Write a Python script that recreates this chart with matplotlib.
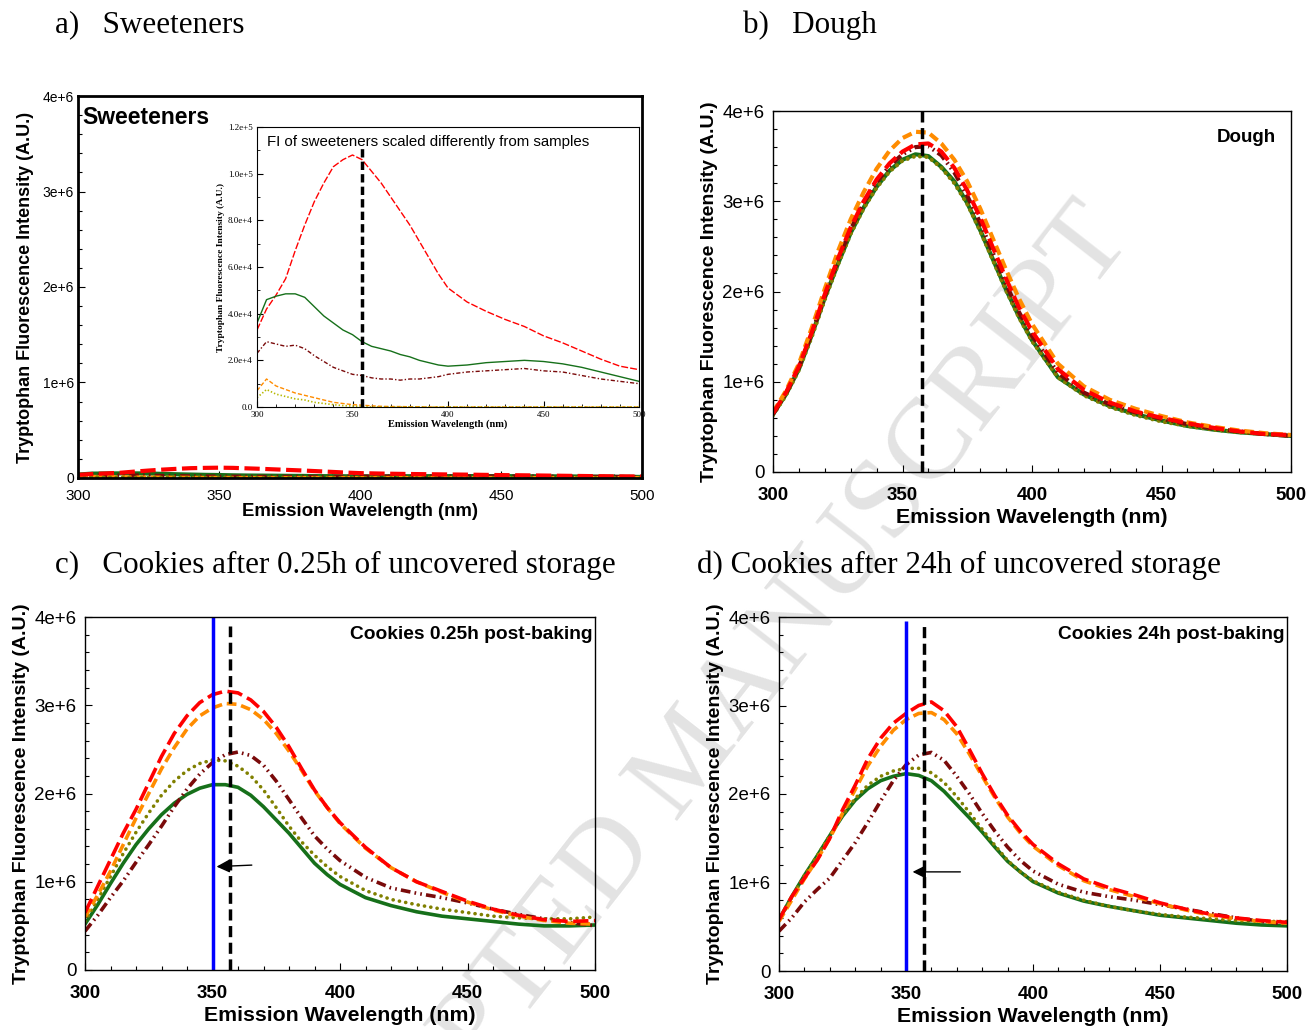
import numpy as np
import matplotlib
matplotlib.use("Agg")
import matplotlib.pyplot as plt
from matplotlib.ticker import MultipleLocator, FuncFormatter

plt.rcParams['font.family'] = ['Liberation Sans', 'DejaVu Sans']
plt.rcParams['lines.scale_dashes'] = False

W, H = 1310, 1030

# wavelength grid (nm)
wl = [300, 305, 310, 315, 320, 325, 330, 335, 340, 345, 350, 355, 360, 365, 370,
      375, 380, 385, 390, 395, 400, 410, 420, 430, 440, 450, 460, 470, 480, 490, 500]

# a) sweeteners, units of 1e4
sw_red = [3.3, 4.2, 4.8, 5.5, 6.7, 7.8, 8.8, 9.6, 10.3, 10.6, 10.8, 10.6, 10.1, 9.6, 9.0,
          8.4, 7.8, 7.1, 6.4, 5.7, 5.1, 4.5, 4.1, 3.75, 3.45, 3.05, 2.75, 2.4, 2.05, 1.75, 1.6]
sw_green = [3.6, 4.6, 4.75, 4.85, 4.85, 4.7, 4.3, 3.9, 3.6, 3.3, 3.1, 2.8, 2.6, 2.5, 2.4,
            2.25, 2.15, 2.0, 1.9, 1.8, 1.75, 1.8, 1.9, 1.95, 2.0, 1.95, 1.85, 1.7, 1.5, 1.3, 1.1]
sw_maroon = [2.3, 2.8, 2.7, 2.6, 2.65, 2.5, 2.2, 1.95, 1.7, 1.55, 1.4, 1.35, 1.25, 1.2, 1.2,
             1.15, 1.2, 1.2, 1.25, 1.3, 1.4, 1.5, 1.55, 1.6, 1.65, 1.55, 1.5, 1.35, 1.2, 1.1, 1.0]
sw_orange = [0.7, 1.2, 0.9, 0.75, 0.6, 0.5, 0.4, 0.3, 0.2, 0.15, 0.1, 0.08, 0.05, 0.03, 0.02,
             0.02, 0.01, 0.01, 0.0, 0.0, 0.0, 0.0, 0.0, 0.0, 0.0, 0.0, 0.0, 0.0, 0.0, 0.0, 0.0]
sw_olive = [0.4, 0.75, 0.55, 0.45, 0.35, 0.3, 0.2, 0.15, 0.1, 0.06, 0.04, 0.02, 0.0, 0.0, 0.0,
            0.0, 0.0, 0.0, 0.0, 0.0, 0.0, 0.0, 0.0, 0.0, 0.0, 0.0, 0.0, 0.0, 0.0, 0.0, 0.0]

# b) dough, units of 1e6
dough_orange = [0.66, 0.90, 1.20, 1.60, 2.03, 2.44, 2.80, 3.10, 3.36, 3.56, 3.70, 3.77, 3.76, 3.64, 3.46,
                3.22, 2.92, 2.58, 2.24, 1.92, 1.64, 1.20, 0.95, 0.80, 0.70, 0.62, 0.55, 0.50, 0.46, 0.43, 0.41]
dough_red = [0.65, 0.88, 1.17, 1.55, 1.97, 2.36, 2.71, 3.00, 3.24, 3.42, 3.55, 3.63, 3.64, 3.55, 3.37,
             3.12, 2.82, 2.48, 2.14, 1.82, 1.56, 1.14, 0.91, 0.77, 0.67, 0.60, 0.54, 0.49, 0.45, 0.42, 0.41]
dough_maroon = [0.64, 0.87, 1.16, 1.54, 1.95, 2.34, 2.69, 2.98, 3.21, 3.39, 3.52, 3.60, 3.61, 3.51, 3.32,
                3.06, 2.76, 2.42, 2.08, 1.77, 1.51, 1.10, 0.88, 0.75, 0.66, 0.59, 0.53, 0.48, 0.45, 0.42, 0.40]
dough_olive = [0.63, 0.85, 1.13, 1.50, 1.91, 2.29, 2.64, 2.92, 3.15, 3.33, 3.45, 3.50, 3.49, 3.37, 3.20,
               2.97, 2.67, 2.34, 2.01, 1.71, 1.45, 1.05, 0.85, 0.72, 0.63, 0.56, 0.51, 0.47, 0.44, 0.42, 0.40]
dough_green = [0.64, 0.86, 1.14, 1.52, 1.93, 2.30, 2.65, 2.93, 3.16, 3.34, 3.46, 3.52, 3.50, 3.38, 3.22,
               2.98, 2.68, 2.35, 2.02, 1.72, 1.46, 1.05, 0.86, 0.73, 0.64, 0.57, 0.51, 0.47, 0.44, 0.42, 0.40]

# c) cookies 0.25h post-baking, units of 1e6
c1_red = [0.65, 0.95, 1.25, 1.55, 1.82, 2.12, 2.42, 2.68, 2.88, 3.03, 3.12, 3.16, 3.14, 3.06, 2.93,
          2.75, 2.53, 2.28, 2.04, 1.84, 1.67, 1.39, 1.16, 1.00, 0.89, 0.78, 0.69, 0.62, 0.57, 0.55, 0.56]
c1_orange = [0.60, 0.85, 1.12, 1.42, 1.72, 2.00, 2.28, 2.52, 2.73, 2.88, 2.97, 3.02, 3.01, 2.95, 2.84,
             2.68, 2.48, 2.26, 2.03, 1.84, 1.66, 1.38, 1.16, 1.00, 0.88, 0.77, 0.68, 0.61, 0.56, 0.53, 0.52]
c1_maroon = [0.44, 0.62, 0.82, 1.01, 1.22, 1.42, 1.63, 1.85, 2.05, 2.22, 2.35, 2.44, 2.47, 2.43, 2.32,
             2.14, 1.93, 1.72, 1.52, 1.37, 1.24, 1.05, 0.93, 0.87, 0.82, 0.76, 0.69, 0.63, 0.58, 0.54, 0.50]
c1_olive = [0.55, 0.80, 1.06, 1.32, 1.56, 1.78, 1.98, 2.14, 2.26, 2.34, 2.38, 2.37, 2.31, 2.20, 2.04,
            1.84, 1.63, 1.45, 1.30, 1.17, 1.06, 0.90, 0.80, 0.74, 0.69, 0.65, 0.61, 0.59, 0.58, 0.58, 0.60]
c1_green = [0.52, 0.74, 0.98, 1.21, 1.42, 1.60, 1.76, 1.89, 1.99, 2.06, 2.10, 2.10, 2.07, 1.98, 1.85,
            1.70, 1.55, 1.38, 1.21, 1.08, 0.97, 0.82, 0.73, 0.66, 0.61, 0.58, 0.55, 0.52, 0.50, 0.50, 0.51]

# d) cookies 24h post-baking, units of 1e6
c24_red = [0.58, 0.84, 1.05, 1.25, 1.50, 1.82, 2.10, 2.40, 2.63, 2.80, 2.91, 3.00, 3.04, 2.94, 2.76,
           2.50, 2.23, 1.98, 1.76, 1.58, 1.43, 1.21, 1.04, 0.94, 0.86, 0.77, 0.70, 0.64, 0.60, 0.57, 0.55]
c24_orange = [0.56, 0.80, 1.04, 1.26, 1.50, 1.78, 2.05, 2.32, 2.54, 2.72, 2.84, 2.91, 2.92, 2.84, 2.68,
              2.45, 2.20, 1.96, 1.74, 1.56, 1.41, 1.19, 1.02, 0.92, 0.84, 0.76, 0.69, 0.63, 0.59, 0.56, 0.54]
c24_maroon = [0.45, 0.60, 0.78, 0.92, 1.05, 1.25, 1.45, 1.68, 1.92, 2.15, 2.33, 2.44, 2.47, 2.38, 2.20,
              2.00, 1.78, 1.58, 1.40, 1.25, 1.13, 0.98, 0.89, 0.84, 0.80, 0.75, 0.70, 0.65, 0.60, 0.56, 0.53]
c24_olive = [0.57, 0.83, 1.08, 1.30, 1.53, 1.76, 1.95, 2.10, 2.20, 2.26, 2.29, 2.29, 2.24, 2.13, 1.97,
             1.79, 1.60, 1.42, 1.25, 1.12, 1.02, 0.89, 0.80, 0.73, 0.68, 0.64, 0.61, 0.59, 0.57, 0.56, 0.56]
c24_green = [0.58, 0.84, 1.08, 1.30, 1.53, 1.75, 1.93, 2.06, 2.15, 2.20, 2.23, 2.21, 2.15, 2.03, 1.88,
             1.73, 1.57, 1.40, 1.24, 1.12, 1.01, 0.88, 0.79, 0.73, 0.68, 0.63, 0.60, 0.57, 0.54, 0.52, 0.51]

RED, ORANGE, MAROON, OLIVE, GREEN = '#ff0000', '#ff8c00', '#7a0a0a', '#808000', '#16701a'
styles = {
    'red': dict(color=RED, dashes=(11, 4)),
    'orange': dict(color=ORANGE, dashes=(7, 3.5)),
    'maroon': dict(color=MAROON, dashes=(7, 3, 1.2, 3, 1.2, 3)),
    'olive': dict(color=OLIVE, dashes=(0.1, 4.5), dash_capstyle='round'),
    'green': dict(color=GREEN),
}
SERIF = ['Liberation Serif', 'DejaVu Serif']

fig = plt.figure(figsize=(W / 100, H / 100), dpi=100)

def px_axes(l, t, r, b):
    return fig.add_axes([l / W, 1 - b / H, (r - l) / W, (b - t) / H])

def fmt_e6(v, pos):
    return '0' if abs(v) < 1 else f'{int(round(v / 1e6))}e+6'

def style_panel(ax, bold_x=True, frame_lw=1.0, tick_fs=13.5, xtick_fs=13.5, xpad=11):
    ax.set_xlim(300, 500)
    ax.set_ylim(0, 4e6)
    ax.patch.set_alpha(0)
    ax.xaxis.set_major_locator(MultipleLocator(50))
    ax.xaxis.set_minor_locator(MultipleLocator(10))
    ax.yaxis.set_major_locator(MultipleLocator(1e6))
    ax.yaxis.set_minor_locator(MultipleLocator(2e5))
    ax.yaxis.set_major_formatter(FuncFormatter(fmt_e6))
    ax.tick_params(which='both', direction='in', top=False, right=False, width=0.8)
    ax.tick_params(which='major', length=5)
    ax.tick_params(which='minor', length=3)
    ax.tick_params(axis='y', labelsize=tick_fs, pad=6)
    ax.tick_params(axis='x', labelsize=xtick_fs, pad=xpad)
    for lab in ax.get_xticklabels():
        lab.set_fontweight('bold' if bold_x else 'normal')
    for s in ax.spines.values():
        s.set_linewidth(frame_lw)
    ax.set_xlabel('Emission Wavelength (nm)', fontsize=15.3, fontweight='bold', labelpad=3)
    ax.set_ylabel('Tryptophan Fluorescence Intensity (A.U.)', fontsize=14,
                  fontweight='bold', labelpad=3)

def plot_set(ax, x, curves, scale, lw):
    for key, vals in curves:
        ax.plot(x, np.array(vals) * scale, lw=lw, **styles[key])

# titles
title_kw = dict(fontsize=22.4, family=SERIF, va='center')
fig.text(55 / W, 1 - 25 / H, 'a)   Sweeteners', **title_kw)
fig.text(743 / W, 1 - 25 / H, 'b)   Dough', **title_kw)
fig.text(55 / W, 1 - 565 / H, 'c)   Cookies after 0.25h of uncovered storage', **title_kw)
fig.text(697 / W, 1 - 565 / H, 'd) Cookies after 24h of uncovered storage', **title_kw)

# watermark
fig.text(690 / W, 1 - 760 / H, 'ACCEPTED MANUSCRIPT', fontsize=83, color='#e3e3e3', rotation=52,
         family=SERIF, ha='center', va='center', rotation_mode='anchor', zorder=-5)

# a) Sweeteners
axa = px_axes(78, 96, 642, 478)
plot_set(axa, wl, [('green', sw_green), ('maroon', sw_maroon), ('orange', sw_orange),
                   ('olive', sw_olive), ('red', sw_red)], 1e4, 3)
style_panel(axa, bold_x=False, frame_lw=2.0, tick_fs=10, xtick_fs=11, xpad=8)
axa.tick_params(axis='y', pad=3)
axa.set_xlabel('Emission Wavelength (nm)', fontsize=13.4, fontweight='bold', labelpad=0)
axa.set_ylabel('Tryptophan Fluorescence Intensity (A.U.)', fontsize=13,
               fontweight='bold', labelpad=6)
axa.text(0.008, 0.975, 'Sweeteners', transform=axa.transAxes, fontsize=16.5,
         fontweight='bold', va='top', ha='left')

ins = px_axes(257, 127, 639, 407)
ins.set_facecolor('white')
ins.plot(wl, np.array(sw_red) * 1e4, color=RED, lw=1, dashes=(5, 1.5))
ins.plot(wl, np.array(sw_green) * 1e4, color=GREEN, lw=1)
ins.plot(wl, np.array(sw_maroon) * 1e4, color=MAROON, lw=1, dashes=(3, 1.5, 1, 1.5))
ins.plot(wl, np.array(sw_orange) * 1e4, color=ORANGE, lw=1, dashes=(3, 1.5))
ins.plot(wl, np.array(sw_olive) * 1e4, color='#b5b800', lw=1.2, dashes=(1, 1.5))
ins.vlines(355, 0, 1.12e5, colors='black', lw=2.5, linestyles=(0, (6, 3)))
ins.set_xlim(300, 500)
ins.set_ylim(0, 1.2e5)
ins.xaxis.set_major_locator(MultipleLocator(50))
ins.xaxis.set_minor_locator(MultipleLocator(10))
ins.yaxis.set_major_locator(MultipleLocator(2e4))
ins.yaxis.set_minor_locator(MultipleLocator(1e4))
ins.yaxis.set_major_formatter(FuncFormatter(lambda v, p: '0.0' if v == 0 else f'{v:.1e}'.replace('e+0', 'e+')))
ins.tick_params(which='both', direction='in', top=False, right=False, labelsize=6.5, pad=3)
ins.tick_params(which='major', length=4)
ins.tick_params(which='minor', length=2.5)
for lab in ins.get_xticklabels() + ins.get_yticklabels():
    lab.set_family(SERIF)
ins.set_xlabel('Emission Wavelength (nm)', fontsize=7.5, fontweight='bold',
               family=SERIF, labelpad=0)
ins.set_ylabel('Tryptophan Fluorescence Intensity (A.U.)', fontsize=6.8, fontweight='bold',
               family=SERIF, labelpad=2)
ins.text(0.025, 0.97, 'FI of sweeteners scaled differently from samples', transform=ins.transAxes,
         fontsize=10.8, va='top', ha='left')

# b) Dough
axb = px_axes(773, 111, 1291, 472)
plot_set(axb, wl, [('green', dough_green), ('olive', dough_olive), ('maroon', dough_maroon),
                   ('orange', dough_orange), ('red', dough_red)], 1e6, 3)
axb.axvline(357.5, color='black', lw=2.5, dashes=(8, 4))
style_panel(axb)
axb.text(0.97, 0.95, 'Dough', transform=axb.transAxes, fontsize=13.5, fontweight='bold',
         ha='right', va='top')

# c) Cookies 0.25h
axc = px_axes(85, 617, 595, 970)
plot_set(axc, wl, [('green', c1_green), ('olive', c1_olive), ('maroon', c1_maroon),
                   ('orange', c1_orange), ('red', c1_red)], 1e6, 2.6)
axc.vlines(350, 0, 4e6, colors='#0000ff', lw=2.5)
axc.vlines(357, 0, 3.9e6, colors='black', lw=2.5, linestyles=(0, (8, 4)))
axc.annotate('', xy=(350.5, 1.17e6), xytext=(366.5, 1.19e6),
             arrowprops=dict(arrowstyle='-|>', color='black', lw=1, mutation_scale=20))
style_panel(axc)
axc.text(0.995, 0.975, 'Cookies 0.25h post-baking', transform=axc.transAxes, fontsize=13.8,
         fontweight='bold', ha='right', va='top')

# d) Cookies 24h
axd = px_axes(779, 617, 1287, 971)
plot_set(axd, wl, [('green', c24_green), ('olive', c24_olive), ('maroon', c24_maroon),
                   ('orange', c24_orange), ('red', c24_red)], 1e6, 2.6)
axd.vlines(350, 0, 3.95e6, colors='#0000ff', lw=2.5)
axd.vlines(357, 0, 3.9e6, colors='black', lw=2.5, linestyles=(0, (8, 4)))
axd.annotate('', xy=(351.5, 1.12e6), xytext=(372.5, 1.12e6),
             arrowprops=dict(arrowstyle='-|>', color='black', lw=1, mutation_scale=20))
style_panel(axd)
axd.text(0.995, 0.975, 'Cookies 24h post-baking', transform=axd.transAxes, fontsize=13.8,
         fontweight='bold', ha='right', va='top')

fig.savefig('out.png', dpi=100)
